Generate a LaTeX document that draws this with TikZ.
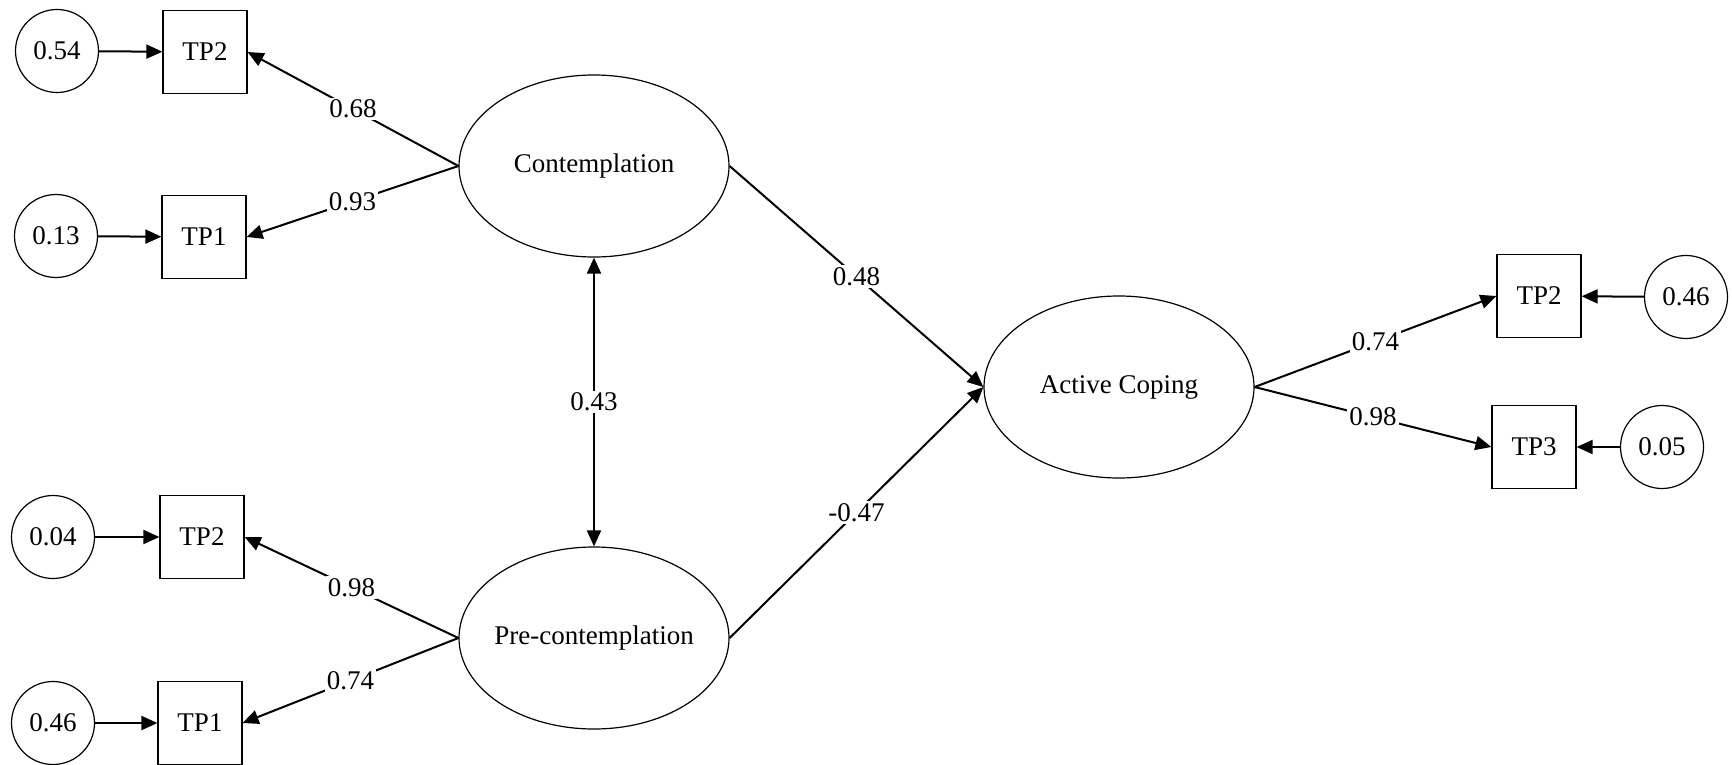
\documentclass[tikz,border=0pt]{standalone}
\usepackage{fontspec}
\setmainfont{Liberation Serif}
\usetikzlibrary{shapes.geometric,arrows.meta}
\tikzset{
  latent/.style={draw,ellipse,line width=1.2pt,minimum width=270pt,minimum height=182pt,inner sep=0pt},
  err/.style={draw,circle,line width=1.2pt,minimum size=83pt,inner sep=0pt},
  obs/.style={draw,rectangle,line width=1.2pt,minimum width=84pt,minimum height=83pt,inner sep=0pt},
  path/.style={line width=2pt,-{Triangle[length=16pt,width=14pt]}},
  cov/.style={line width=2pt,{Triangle[length=16pt,width=14pt]}-{Triangle[length=16pt,width=14pt]}},
  lbl/.style={fill=white,inner sep=2pt,midway}
}
\begin{document}
\begin{tikzpicture}[x=1pt,y=-1pt,font=\fontsize{27}{32}\selectfont]
\useasboundingbox (0,0) rectangle (1732,765);
% latent variables
\node[latent] (con) at (594,166) {\makebox[0pt]{Contemplation}};
\node[latent] (pre) at (594,638) {\makebox[0pt]{Pre-contemplation}};
\node[latent] (act) at (1119,387) {\makebox[0pt]{Active Coping}};
% observed
\node[obs] (c2) at (205,52) {TP2};
\node[obs] (c1) at (204,237) {TP1};
\node[obs] (p2) at (202,537) {TP2};
\node[obs] (p1) at (200,723) {TP1};
\node[obs] (a2) at (1539,296) {TP2};
\node[obs] (a3) at (1534,447) {TP3};
% errors
\node[err] (e1) at (57,51) {0.54};
\node[err] (e2) at (56,236) {0.13};
\node[err] (e3) at (53,537) {0.04};
\node[err] (e4) at (53,723) {0.46};
\node[err] (e5) at (1686,297) {0.46};
\node[err] (e6) at (1662,447) {0.05};
% error arrows
\draw[path] (e1) -- (c2);
\draw[path] (e2) -- (c1);
\draw[path] (e3) -- (p2);
\draw[path] (e4) -- (p1);
\draw[path] (e5) -- (a2);
\draw[path] (e6) -- (a3);
% loadings
\draw[path] (con.west) -- node[lbl] {0.68} (c2.east);
\draw[path] (con.west) -- node[lbl] {0.93} (c1.east);
\draw[path] (pre.west) -- node[lbl] {0.98} (p2.east);
\draw[path] (pre.west) -- node[lbl] {0.74} (p1.east);
\draw[path] (act.east) -- node[lbl] {0.74} (a2.west);
\draw[path] (act.east) -- node[lbl] {0.98} (a3.west);
% structural
\draw[path] (con.east) -- node[lbl] {0.48} (act.west);
\draw[path] (pre.east) -- node[lbl] {-0.47} (act.west);
\draw[cov] (con.south) -- node[lbl] {0.43} (pre.north);
\end{tikzpicture}
\end{document}
